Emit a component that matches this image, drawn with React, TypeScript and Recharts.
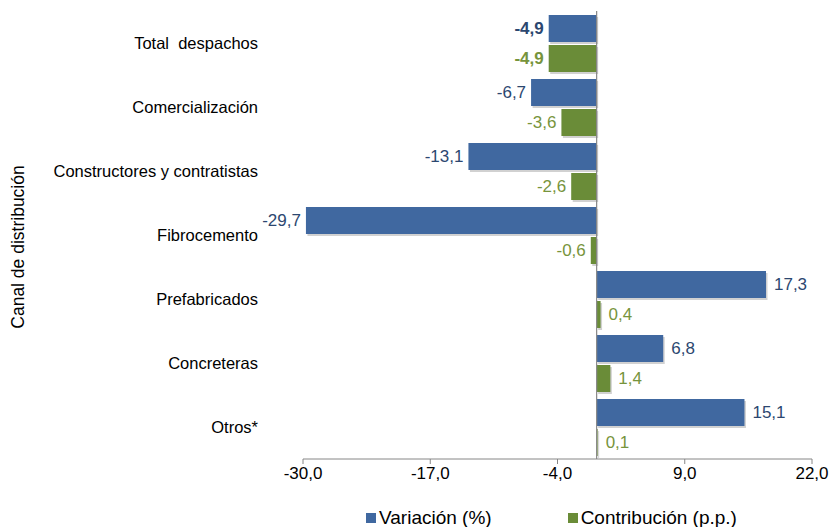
import { BarChart, Bar, XAxis, YAxis, ReferenceLine, LabelList, Legend } from 'recharts';

const categories = [
  'Total\u00a0\u00a0despachos',
  'Comercialización',
  'Constructores y contratistas',
  'Fibrocemento',
  'Prefabricados',
  'Concreteras',
  'Otros*',
];
const variacion = [-4.9, -6.7, -13.1, -29.7, 17.3, 6.8, 15.1];
const contribucion = [-4.9, -3.6, -2.6, -0.6, 0.4, 1.4, 0.1];
const xTicks = [-30, -17, -4, 9, 22];

const data = categories.map((name, i) => ({
  name,
  variacion: variacion[i],
  contribucion: contribucion[i],
}));

const BLUE = '#4068A0';
const GREEN = '#6A8C38';
const BLUE_TEXT = '#2C4770';
const GREEN_TEXT = '#77943C';
const FONT = '"Liberation Sans", Arial, sans-serif';

const fmt = (v: number) => v.toFixed(1).replace('.', ',');

const ShadowBar = (props: any) => {
  const { x, y, width, height, fill } = props;
  const left = Math.min(x, x + width);
  const w = Math.abs(width);
  return (
    <g>
      <rect x={left + 1.5} y={y + 2} width={w} height={height} fill="#000" opacity={0.18} />
      <rect x={left} y={y} width={w} height={height} fill={fill} />
    </g>
  );
};

const makeLabel = (color: string) => (props: any) => {
  const { x, y, width, height, value, index } = props;
  const neg = value < 0;
  const end = x + width;
  return (
    <text
      x={neg ? end - 5 : end + 8}
      y={y + height / 2}
      dy="0.35em"
      textAnchor={neg ? 'end' : 'start'}
      fill={color}
      fontSize={17}
      fontWeight={index === 0 ? 'bold' : 'normal'}
      fontFamily={FONT}
    >
      {fmt(value)}
    </text>
  );
};

const LegendContent = () => (
  <div
    style={{
      height: 38,
      paddingTop: 19,
      boxSizing: 'border-box',
      paddingLeft: 366,
      display: 'flex',
      alignItems: 'center',
      fontFamily: FONT,
      fontSize: 19,
      lineHeight: '18px',
      color: '#000',
    }}
  >
    <span style={{ width: 10, height: 10, background: BLUE, display: 'inline-block', marginRight: 3 }} />
    <span style={{ marginRight: 76 }}>Variación (%)</span>
    <span style={{ width: 10, height: 10, background: GREEN, display: 'inline-block', marginRight: 3 }} />
    <span>Contribución (p.p.)</span>
  </div>
);

export default function App() {
  return (
    <div style={{ position: 'absolute', left: 0, top: 0 }}>
      <BarChart
        width={831}
        height={527}
        data={data}
        layout="vertical"
        margin={{ top: 11, right: 19, bottom: 0, left: 0 }}
        barSize={27}
        barGap={3}
      >
        <XAxis
          type="number"
          domain={[-30, 22]}
          ticks={xTicks}
          tickFormatter={fmt}
          height={30}
          stroke="#868686"
          tickSize={5}
          tickMargin={3}
          tick={{ fill: '#000', fontSize: 17, fontFamily: FONT }}
        />
        <YAxis
          type="category"
          dataKey="name"
          width={303}
          axisLine={false}
          tickLine={false}
          tickSize={0}
          tickMargin={45}
          tick={{ fill: '#000', fontSize: 16.5, fontFamily: FONT }}
          label={{
            content: (p: any) => {
              const vb = p.viewBox || {};
              const cy = vb.y + vb.height / 2 + 12;
              return (
                <text
                  x={18}
                  y={cy}
                  transform={`rotate(-90, 18, ${cy})`}
                  textAnchor="middle"
                  dy="0.35em"
                  fontSize={17.5}
                  fontFamily={FONT}
                  fill="#000"
                >
                  Canal de distribución
                </text>
              );
            },
          }}
        />
        <Legend verticalAlign="bottom" content={<LegendContent />} />
        <Bar dataKey="variacion" fill={BLUE} shape={<ShadowBar />} isAnimationActive={false}>
          <LabelList dataKey="variacion" content={makeLabel(BLUE_TEXT)} />
        </Bar>
        <Bar dataKey="contribucion" fill={GREEN} shape={<ShadowBar />} isAnimationActive={false}>
          <LabelList dataKey="contribucion" content={makeLabel(GREEN_TEXT)} />
        </Bar>
        <ReferenceLine x={0} stroke="#868686" strokeWidth={1.2} />
      </BarChart>
    </div>
  );
}
